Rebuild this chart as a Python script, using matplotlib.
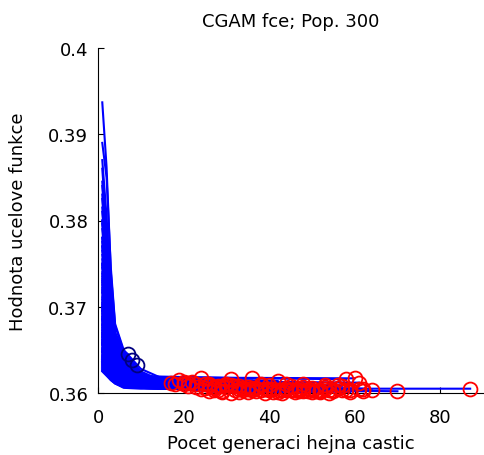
import numpy as np
import matplotlib
matplotlib.use("Agg")
import matplotlib.pyplot as plt

plt.rcParams["font.family"] = ["DejaVu Sans"]

# best objective value of each swarm run at fixed generations
check_gens = [1, 2, 3, 4, 6, 10, 15]
val_g1 = [0.3937, 0.3890, 0.3870, 0.3845, 0.3830, 0.3815, 0.3800, 0.3790, 0.3780, 0.3770,
          0.3760, 0.3755, 0.3748, 0.3740, 0.3735, 0.3728, 0.3722, 0.3718, 0.3712, 0.3708,
          0.3704, 0.3700, 0.3696, 0.3692, 0.3688, 0.3685, 0.3682, 0.3679, 0.3676, 0.3673,
          0.3670, 0.3668, 0.3665, 0.3662, 0.3660, 0.3658, 0.3655, 0.3653, 0.3651, 0.3649,
          0.3647, 0.3645, 0.3643, 0.3641, 0.3640, 0.3638, 0.3636, 0.3635, 0.3633, 0.3632,
          0.3630, 0.3629, 0.3628, 0.3627, 0.3626, 0.3625, 0.3800, 0.3770, 0.3750, 0.3662,
          0.3695, 0.3710, 0.3730, 0.3675, 0.3657, 0.3644, 0.3686, 0.3666, 0.3652, 0.3639,
          0.3780, 0.3750, 0.3720, 0.3700, 0.3690, 0.3680, 0.3670, 0.3660, 0.3650, 0.3642,
          0.3810, 0.3775, 0.3745, 0.3725, 0.3705, 0.3695, 0.3685, 0.3672, 0.3664, 0.3656,
          0.3648, 0.3638, 0.3631, 0.3860, 0.3825, 0.3796, 0.3765, 0.3738, 0.3716, 0.3698,
          0.3688, 0.3678, 0.3668, 0.3658, 0.3647, 0.3636, 0.3634, 0.3840, 0.3732, 0.3702]
val_g2 = [0.3862, 0.3850, 0.3805, 0.3780, 0.3760, 0.3750, 0.3740, 0.3730, 0.3720, 0.3715,
          0.3710, 0.3700, 0.3695, 0.3692, 0.3688, 0.3685, 0.3680, 0.3678, 0.3675, 0.3672,
          0.3670, 0.3668, 0.3665, 0.3662, 0.3660, 0.3658, 0.3656, 0.3654, 0.3652, 0.3650,
          0.3648, 0.3646, 0.3645, 0.3643, 0.3642, 0.3640, 0.3639, 0.3638, 0.3637, 0.3636,
          0.3635, 0.3634, 0.3633, 0.3632, 0.3631, 0.3630, 0.3629, 0.3628, 0.3627, 0.3626,
          0.3625, 0.3624, 0.3623, 0.3622, 0.3621, 0.3620, 0.3750, 0.3720, 0.3710, 0.3644,
          0.3664, 0.3674, 0.3686, 0.3651, 0.3641, 0.3633, 0.3659, 0.3647, 0.3638, 0.3630,
          0.3728, 0.3705, 0.3684, 0.3670, 0.3662, 0.3656, 0.3650, 0.3644, 0.3638, 0.3633,
          0.3748, 0.3722, 0.3700, 0.3686, 0.3673, 0.3666, 0.3659, 0.3651, 0.3646, 0.3640,
          0.3636, 0.3630, 0.3626, 0.3790, 0.3758, 0.3736, 0.3714, 0.3694, 0.3679, 0.3668,
          0.3661, 0.3655, 0.3649, 0.3642, 0.3635, 0.3628, 0.3627, 0.3770, 0.3690, 0.3671]
val_g3 = [0.3740, 0.3745, 0.3720, 0.3710, 0.3695, 0.3690, 0.3685, 0.3680, 0.3676, 0.3672,
          0.3670, 0.3666, 0.3662, 0.3660, 0.3658, 0.3655, 0.3653, 0.3650, 0.3648, 0.3646,
          0.3645, 0.3644, 0.3642, 0.3641, 0.3640, 0.3638, 0.3637, 0.3636, 0.3635, 0.3634,
          0.3633, 0.3632, 0.3631, 0.3630, 0.3629, 0.3628, 0.3627, 0.3627, 0.3626, 0.3625,
          0.3625, 0.3624, 0.3623, 0.3623, 0.3622, 0.3621, 0.3620, 0.3620, 0.3619, 0.3618,
          0.3618, 0.3617, 0.3616, 0.3616, 0.3615, 0.3615, 0.3700, 0.3685, 0.3680, 0.3630,
          0.3642, 0.3647, 0.3656, 0.3634, 0.3629, 0.3624, 0.3639, 0.3632, 0.3627, 0.3621,
          0.3678, 0.3666, 0.3654, 0.3646, 0.3642, 0.3638, 0.3634, 0.3631, 0.3627, 0.3624,
          0.3690, 0.3675, 0.3664, 0.3656, 0.3648, 0.3644, 0.3640, 0.3635, 0.3632, 0.3629,
          0.3626, 0.3622, 0.3619, 0.3715, 0.3695, 0.3682, 0.3670, 0.3660, 0.3651, 0.3645,
          0.3641, 0.3637, 0.3633, 0.3630, 0.3625, 0.3620, 0.3620, 0.3702, 0.3658, 0.3647]
val_g4 = [0.3678, 0.3680, 0.3670, 0.3666, 0.3660, 0.3658, 0.3655, 0.3652, 0.3650, 0.3648,
          0.3647, 0.3645, 0.3643, 0.3642, 0.3640, 0.3639, 0.3637, 0.3636, 0.3635, 0.3634,
          0.3633, 0.3632, 0.3631, 0.3630, 0.3629, 0.3628, 0.3627, 0.3626, 0.3626, 0.3625,
          0.3624, 0.3624, 0.3623, 0.3622, 0.3622, 0.3621, 0.3620, 0.3620, 0.3619, 0.3619,
          0.3618, 0.3618, 0.3617, 0.3617, 0.3616, 0.3616, 0.3615, 0.3615, 0.3614, 0.3614,
          0.3613, 0.3613, 0.3612, 0.3612, 0.3611, 0.3611, 0.3670, 0.3662, 0.3658, 0.3622,
          0.3630, 0.3634, 0.3638, 0.3625, 0.3621, 0.3618, 0.3628, 0.3623, 0.3620, 0.3616,
          0.3650, 0.3644, 0.3638, 0.3633, 0.3630, 0.3627, 0.3625, 0.3623, 0.3620, 0.3618,
          0.3656, 0.3649, 0.3643, 0.3639, 0.3634, 0.3631, 0.3629, 0.3626, 0.3624, 0.3621,
          0.3619, 0.3616, 0.3614, 0.3668, 0.3660, 0.3653, 0.3647, 0.3641, 0.3636, 0.3632,
          0.3629, 0.3627, 0.3624, 0.3622, 0.3618, 0.3615, 0.3615, 0.3662, 0.3640, 0.3633]
val_g6 = [0.3648, 0.3650, 0.3645, 0.3642, 0.3640, 0.3638, 0.3636, 0.3635, 0.3633, 0.3632,
          0.3630, 0.3629, 0.3628, 0.3627, 0.3626, 0.3625, 0.3624, 0.3623, 0.3622, 0.3621,
          0.3620, 0.3620, 0.3619, 0.3619, 0.3618, 0.3618, 0.3617, 0.3622, 0.3616, 0.3616,
          0.3619, 0.3615, 0.3614, 0.3614, 0.3613, 0.3613, 0.3612, 0.3612, 0.3612, 0.3611,
          0.3611, 0.3611, 0.3610, 0.3610, 0.3610, 0.3609, 0.3609, 0.3609, 0.3608, 0.3608,
          0.3608, 0.3607, 0.3607, 0.3607, 0.3607, 0.3606, 0.3648, 0.3644, 0.3640, 0.3615,
          0.3620, 0.3622, 0.3626, 0.3617, 0.3614, 0.3612, 0.3618, 0.3615, 0.3613, 0.3610,
          0.3630, 0.3627, 0.3624, 0.3621, 0.3619, 0.3617, 0.3616, 0.3615, 0.3613, 0.3612,
          0.3634, 0.3630, 0.3627, 0.3625, 0.3622, 0.3620, 0.3619, 0.3617, 0.3616, 0.3614,
          0.3613, 0.3611, 0.3610, 0.3642, 0.3637, 0.3633, 0.3629, 0.3626, 0.3623, 0.3621,
          0.3619, 0.3618, 0.3616, 0.3615, 0.3612, 0.3610, 0.3610, 0.3638, 0.3625, 0.3621]
val_g10 = [0.3625, 0.3628, 0.3624, 0.3622, 0.3620, 0.3621, 0.3619, 0.3618, 0.3620, 0.3617,
           0.3616, 0.3618, 0.3615, 0.3617, 0.3616, 0.3614, 0.3615, 0.3614, 0.3613, 0.3615,
           0.3612, 0.3614, 0.3613, 0.3612, 0.3613, 0.3611, 0.3612, 0.3620, 0.3611, 0.3612,
           0.3618, 0.3612, 0.3610, 0.3611, 0.3610, 0.3611, 0.3610, 0.3611, 0.3609, 0.3610,
           0.3610, 0.3609, 0.3609, 0.3609, 0.3608, 0.3608, 0.3608, 0.3608, 0.3607, 0.3607,
           0.3607, 0.3606, 0.3606, 0.3606, 0.3606, 0.3605, np.nan, np.nan, np.nan, 0.3612,
           0.3615, 0.3617, 0.3619, 0.3614, 0.3612, 0.3610, 0.3615, 0.3613, 0.3611, 0.3608,
           0.3616, 0.3614, 0.3613, 0.3612, 0.3611, 0.3610, 0.3610, 0.3609, 0.3609, 0.3608,
           0.3617, 0.3615, 0.3614, 0.3613, 0.3612, 0.3612, 0.3612, 0.3611, 0.3611, 0.3610,
           0.3609, 0.3608, 0.3608, 0.3622, 0.3619, 0.3617, 0.3616, 0.3615, 0.3614, 0.3614,
           0.3613, 0.3613, 0.3612, 0.3611, 0.3609, 0.3608, 0.3608, 0.3620, 0.3615, 0.3613]
val_g15 = [0.3614, 0.3617, 0.3612, 0.3613, 0.3611, 0.3615, 0.3610, 0.3612, 0.3618, 0.3609,
           0.3611, 0.3613, 0.3610, 0.3612, 0.3609, 0.3611, 0.3613, 0.3608, 0.3610, 0.3612,
           0.3609, 0.3611, 0.3610, 0.3608, 0.3611, 0.3609, 0.3610, 0.3619, 0.3608, 0.3610,
           0.3618, 0.3611, 0.3608, 0.3609, 0.3608, 0.3610, 0.3609, 0.3610, 0.3607, 0.3609,
           0.3608, 0.3608, 0.3607, 0.3608, 0.3607, 0.3607, 0.3606, 0.3607, 0.3606, 0.3606,
           0.3606, 0.3605, 0.3605, 0.3605, 0.3605, 0.3605, np.nan, np.nan, np.nan, 0.3610,
           0.3613, 0.3616, 0.3617, 0.3612, 0.3611, 0.3609, 0.3614, 0.3612, 0.3610, 0.3607,
           0.3610, 0.3609, 0.3608, 0.3608, 0.3607, 0.3607, 0.3606, 0.3606, 0.3606, 0.3606,
           0.3611, 0.3610, 0.3609, 0.3609, 0.3609, 0.3609, 0.3610, 0.3609, 0.3609, 0.3608,
           0.3608, 0.3607, 0.3607, 0.3613, 0.3612, 0.3611, 0.3612, 0.3612, 0.3612, 0.3612,
           0.3611, 0.3611, 0.3610, 0.3609, 0.3608, 0.3607, 0.3607, 0.3612, 0.3612, 0.3610]

# generation at which each run stopped and its final best value
end_gen = [36, 24, 45, 31, 52, 19, 40, 28, 58, 47,
           34, 22, 55, 38, 61, 27, 44, 50, 33, 21,
           42, 56, 30, 48, 25, 39, 53, 36, 46, 29,
           60, 23, 43, 35, 51, 26, 41, 32, 57, 37,
           49, 30, 54, 44, 62, 38, 47, 27, 52, 33,
           45, 59, 40, 64, 70, 87, 7, 8, 9, 18,
           20, 31, 42, 48, 53, 57, 61, 35, 29, 50,
           26, 33, 37, 41, 44, 28, 31, 46, 49, 39,
           34, 52, 24, 55, 32, 21, 47, 23, 58, 43,
           36, 27, 59, 50, 38, 45, 26, 30, 56, 20,
           40, 48, 35, 53, 25, 42, 62, 17, 29, 54]
end_val = [0.3606, 0.3617, 0.3604, 0.3609, 0.3603, 0.3615, 0.3605, 0.3608, 0.3616, 0.3602,
           0.3606, 0.3613, 0.3604, 0.3609, 0.3605, 0.3607, 0.3610, 0.3603, 0.3608, 0.3612,
           0.3604, 0.3606, 0.3609, 0.3602, 0.3610, 0.3605, 0.3607, 0.3617, 0.3603, 0.3608,
           0.3617, 0.3611, 0.3604, 0.3607, 0.3602, 0.3609, 0.3605, 0.3608, 0.3604, 0.3606,
           0.3605, 0.3607, 0.3603, 0.3606, 0.3605, 0.3604, 0.3603, 0.3606, 0.3602, 0.3605,
           0.3604, 0.3603, 0.3604, 0.3603, 0.3602, 0.3605, 0.3645, 0.3638, 0.3633, 0.3610,
           0.3613, 0.3616, 0.3614, 0.3611, 0.3609, 0.3608, 0.3612, 0.3601, 0.3601, 0.3601,
           0.3602, 0.3601, 0.3602, 0.3601, 0.3603, 0.3603, 0.3600, 0.3601, 0.3602, 0.3600,
           0.3604, 0.3601, 0.3605, 0.3602, 0.3603, 0.3608, 0.3606, 0.3607, 0.3603, 0.3600,
           0.3603, 0.3604, 0.3601, 0.3606, 0.3610, 0.3608, 0.3611, 0.3610, 0.3609, 0.3611,
           0.3609, 0.3607, 0.3605, 0.3605, 0.3606, 0.3601, 0.3602, 0.3612, 0.3602, 0.3600]

title = "CGAM fce; Pop. 300"
x_label = "Pocet generaci hejna castic"
y_label = "Hodnota ucelove funkce"
x_ticks = [0, 20, 40, 60, 80]
y_ticks = [0.36, 0.37, 0.38, 0.39, 0.40]
y_tick_labels = ["0.36", "0.37", "0.38", "0.39", "0.4"]

columns = [val_g1, val_g2, val_g3, val_g4, val_g6, val_g10, val_g15]

fig = plt.figure(figsize=(4.84, 4.56), dpi=100)
ax = fig.add_axes([98 / 484, 62 / 456, 385 / 484, 345 / 456])

# convergence curves first, end markers on top
for i in range(len(end_gen)):
    gens = [g for g in check_gens if g < end_gen[i]]
    vals = [columns[k][i] for k, g in enumerate(check_gens) if g < end_gen[i]]
    gens.append(end_gen[i])
    vals.append(end_val[i])
    ax.plot(gens, vals, color="blue", linewidth=1.5, zorder=2)

for i in range(len(end_gen)):
    # runs that stopped early keep a dark marker
    mcolor = "navy" if end_gen[i] < 15 else "red"
    ax.plot(end_gen[i], end_val[i], "o", mfc="none", mec=mcolor,
            markersize=10, mew=1.3, clip_on=False, zorder=3)

ax.set_xlim(0, 90)
ax.set_ylim(0.36, 0.40)
ax.set_xticks(x_ticks)
ax.set_yticks(y_ticks)
ax.set_yticklabels(y_tick_labels)
ax.spines["top"].set_visible(False)
ax.spines["right"].set_visible(False)
ax.tick_params(direction="in", length=4, labelsize=13, pad=7)
ax.tick_params(axis="x", pad=11)
ax.set_title(title, fontsize=13, pad=16)
ax.set_xlabel(x_label, fontsize=13)
ax.set_ylabel(y_label, fontsize=13)
ax.xaxis.set_label_coords(0.5, -0.12)
ax.yaxis.set_label_coords(-0.185, 0.5)

fig.savefig("out.png", dpi=100)
